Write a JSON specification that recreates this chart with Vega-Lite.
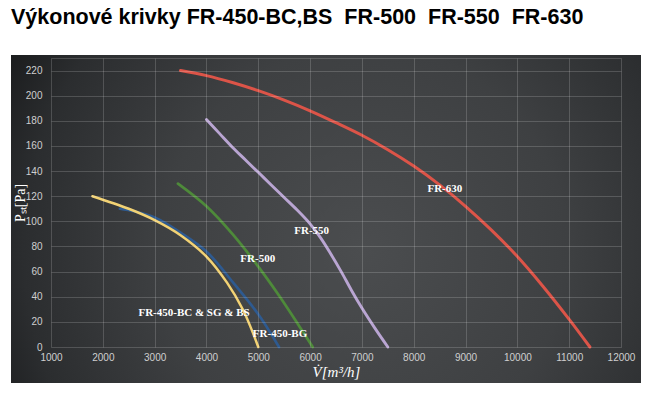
{
  "$schema": "https://vega.github.io/schema/vega-lite/v6.json",
  "autosize": "none",
  "width": 570,
  "height": 289,
  "padding": {"left": 51, "top": 58, "right": 32, "bottom": 52},
  "background": "#ffffff",
  "title": {
    "text": "Výkonové krivky FR-450-BC,BS\u00a0 FR-500\u00a0 FR-550\u00a0 FR-630",
    "anchor": "start",
    "frame": "bounds",
    "font": "Liberation Sans",
    "fontSize": 21.5,
    "fontWeight": "bold",
    "color": "#000000",
    "offset": 25
  },
  "config": {
    "view": {"stroke": null},
    "axis": {
      "grid": true,
      "gridColor": "#ffffff",
      "gridOpacity": 0.17,
      "gridWidth": 1,
      "domain": false,
      "ticks": false,
      "labelColor": "#cfcfcf",
      "labelFont": "Liberation Sans",
      "labelFontSize": 10,
      "titleColor": "#ffffff",
      "titleFont": "Liberation Serif",
      "titleFontWeight": "normal"
    }
  },
  "datasets": {
    "curves": [
      {"fan": "FR-630", "q": 3500, "p": 220},
      {"fan": "FR-630", "q": 4000, "p": 216},
      {"fan": "FR-630", "q": 4500, "p": 210.5},
      {"fan": "FR-630", "q": 5000, "p": 204},
      {"fan": "FR-630", "q": 5500, "p": 196.5},
      {"fan": "FR-630", "q": 6000, "p": 188},
      {"fan": "FR-630", "q": 6500, "p": 178.5},
      {"fan": "FR-630", "q": 7000, "p": 168.5},
      {"fan": "FR-630", "q": 7500, "p": 157},
      {"fan": "FR-630", "q": 8000, "p": 144},
      {"fan": "FR-630", "q": 8500, "p": 129},
      {"fan": "FR-630", "q": 9000, "p": 112},
      {"fan": "FR-630", "q": 9500, "p": 93},
      {"fan": "FR-630", "q": 10000, "p": 72},
      {"fan": "FR-630", "q": 10500, "p": 48},
      {"fan": "FR-630", "q": 11000, "p": 22},
      {"fan": "FR-630", "q": 11400, "p": 0},
      {"fan": "FR-550", "q": 4000, "p": 181},
      {"fan": "FR-550", "q": 4250, "p": 170},
      {"fan": "FR-550", "q": 4500, "p": 159},
      {"fan": "FR-550", "q": 4750, "p": 149},
      {"fan": "FR-550", "q": 5000, "p": 139},
      {"fan": "FR-550", "q": 5250, "p": 129},
      {"fan": "FR-550", "q": 5500, "p": 119},
      {"fan": "FR-550", "q": 5750, "p": 109},
      {"fan": "FR-550", "q": 6000, "p": 98},
      {"fan": "FR-550", "q": 6200, "p": 87},
      {"fan": "FR-550", "q": 6400, "p": 74},
      {"fan": "FR-550", "q": 6600, "p": 60},
      {"fan": "FR-550", "q": 6800, "p": 45},
      {"fan": "FR-550", "q": 7000, "p": 31},
      {"fan": "FR-550", "q": 7250, "p": 15},
      {"fan": "FR-550", "q": 7500, "p": 0},
      {"fan": "FR-500", "q": 3450, "p": 130},
      {"fan": "FR-500", "q": 4000, "p": 112},
      {"fan": "FR-500", "q": 4500, "p": 90},
      {"fan": "FR-500", "q": 5000, "p": 64},
      {"fan": "FR-500", "q": 5400, "p": 41},
      {"fan": "FR-500", "q": 5800, "p": 16},
      {"fan": "FR-500", "q": 6050, "p": 0},
      {"fan": "FR-450-BG", "q": 2330, "p": 110},
      {"fan": "FR-450-BG", "q": 2600, "p": 108},
      {"fan": "FR-450-BG", "q": 3000, "p": 103},
      {"fan": "FR-450-BG", "q": 3500, "p": 91},
      {"fan": "FR-450-BG", "q": 4000, "p": 76},
      {"fan": "FR-450-BG", "q": 4500, "p": 52},
      {"fan": "FR-450-BG", "q": 5000, "p": 26},
      {"fan": "FR-450-BG", "q": 5400, "p": 0},
      {"fan": "FR-450-BC & SG & BS", "q": 1800, "p": 120},
      {"fan": "FR-450-BC & SG & BS", "q": 2500, "p": 110},
      {"fan": "FR-450-BC & SG & BS", "q": 3000, "p": 101},
      {"fan": "FR-450-BC & SG & BS", "q": 3500, "p": 89},
      {"fan": "FR-450-BC & SG & BS", "q": 4000, "p": 72},
      {"fan": "FR-450-BC & SG & BS", "q": 4400, "p": 51},
      {"fan": "FR-450-BC & SG & BS", "q": 4700, "p": 30},
      {"fan": "FR-450-BC & SG & BS", "q": 4850, "p": 16},
      {"fan": "FR-450-BC & SG & BS", "q": 5000, "p": 0}
    ],
    "labels": [
      {"label": "FR-630", "q": 8600, "p": 126},
      {"label": "FR-550", "q": 6030, "p": 92},
      {"label": "FR-500", "q": 4990, "p": 70},
      {"label": "FR-450-BC & SG & BS", "q": 3760, "p": 27},
      {"label": "FR-450-BG", "q": 5420, "p": 10}
    ]
  },
  "layer": [
    {
      "data": {"values": [{}]},
      "mark": {
        "type": "rect",
        "fill": {
          "gradient": "radial",
          "x1": 0.56, "y1": 0.55, "r1": 0,
          "x2": 0.56, "y2": 0.55, "r2": 0.72,
          "stops": [
            {"offset": 0, "color": "#4b4d4f"},
            {"offset": 0.45, "color": "#3e4042"},
            {"offset": 0.75, "color": "#2b2d2f"},
            {"offset": 1, "color": "#0e0f10"}
          ]
        }
      },
      "encoding": {
        "x": {
          "datum": 228, "type": "quantitative",
          "scale": {"domain": [1000, 12000], "nice": false, "zero": false},
          "axis": {
            "zindex": 1,
            "values": [1000, 2000, 3000, 4000, 5000, 6000, 7000, 8000, 9000, 10000, 11000, 12000],
            "tickCount": 30,
            "format": "d",
            "labelFlush": false,
            "labelOverlap": false,
            "labelPadding": 5,
            "title": "V̇[m³/h]",
            "titleFontSize": 15,
            "titleFontStyle": "italic",
            "titlePadding": 2
          }
        },
        "x2": {"datum": 12386},
        "y": {
          "datum": -28.6, "type": "quantitative",
          "scale": {"domain": [0, 230], "nice": false, "zero": false},
          "axis": {
            "zindex": 1,
            "values": [0, 20, 40, 60, 80, 100, 120, 140, 160, 180, 200, 220, 230],
            "tickCount": 30,
            "labelExpr": "datum.value == 230 ? '' : datum.label",
            "labelOverlap": false,
            "labelPadding": 9,
            "labelFlush": false,
            "title": "Pₛₜ[Pa]",
            "titleFontSize": 14,
            "titlePadding": -2
          }
        },
        "y2": {"datum": 232.4}
      }
    },
    {
      "data": {"name": "curves"},
      "mark": {"type": "line", "interpolate": "catmull-rom", "strokeCap": "round"},
      "encoding": {
        "x": {"field": "q", "type": "quantitative"},
        "y": {"field": "p", "type": "quantitative"},
        "color": {
          "field": "fan", "type": "nominal",
          "scale": {
            "domain": ["FR-630", "FR-550", "FR-500", "FR-450-BG", "FR-450-BC & SG & BS"],
            "range": ["#dc5448", "#b9a5d2", "#4e8a3a", "#2e5a90", "#f2d274"]
          },
          "legend": null
        },
        "strokeWidth": {
          "field": "fan", "type": "nominal",
          "scale": {
            "domain": ["FR-630", "FR-550", "FR-500", "FR-450-BG", "FR-450-BC & SG & BS"],
            "range": [3, 2.5, 2.5, 5.5, 2]
          },
          "legend": null
        },
        "order": {"field": "q", "type": "quantitative"}
      }
    },
    {
      "data": {"name": "labels"},
      "mark": {"type": "text", "font": "Liberation Serif", "fontSize": 11, "fontWeight": "bold", "color": "#ffffff", "align": "center", "baseline": "middle"},
      "encoding": {
        "x": {"field": "q", "type": "quantitative"},
        "y": {"field": "p", "type": "quantitative"},
        "text": {"field": "label", "type": "nominal"}
      }
    }
  ]
}
